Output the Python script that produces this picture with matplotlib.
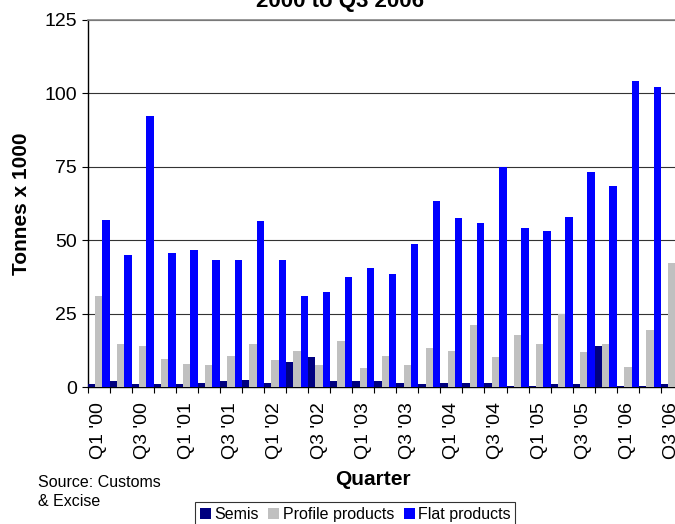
# ===================================================================================
# plot.py: Quarterly steel imports (Semis, Profile and Flat products),
# Q1 2000 to Q3 2006, drawn as a grouped bar chart and saved to out.png.
# ===================================================================================

import numpy as np
import matplotlib
matplotlib.use("Agg")
import matplotlib.pyplot as plt
from matplotlib.patches import Patch

# ===============================================================
# Data (tonnes x 1000) ...
# ===============================================================

quarters = ["Q1 '00", "Q2 '00", "Q3 '00", "Q4 '00",
            "Q1 '01", "Q2 '01", "Q3 '01", "Q4 '01",
            "Q1 '02", "Q2 '02", "Q3 '02", "Q4 '02",
            "Q1 '03", "Q2 '03", "Q3 '03", "Q4 '03",
            "Q1 '04", "Q2 '04", "Q3 '04", "Q4 '04",
            "Q1 '05", "Q2 '05", "Q3 '05", "Q4 '05",
            "Q1 '06", "Q2 '06", "Q3 '06"]

semis   = [1.1, 2.2, 1.1, 1.1, 1.1, 1.5, 2.2, 2.5, 1.5, 8.6, 10.3, 2.2, 2.2, 2.2,
           1.5, 1.1, 1.5, 1.5, 1.5, 0.5, 0.5, 1.1, 1.1, 14.1, 0.5, 0.5, 1.1]

profile = [31.1, 14.8, 14.1, 9.7, 7.9, 7.6, 10.7, 14.8, 9.3, 12.4, 7.6, 15.8, 6.6, 10.7,
           7.6, 13.4, 12.4, 21.2, 10.3, 17.8, 14.8, 25.0, 12.0, 14.8, 6.9, 19.5, 42.3]

flat    = [57.0, 45.1, 92.4, 45.8, 46.8, 43.4, 43.4, 56.7, 43.4, 31.1, 32.5, 37.6, 40.6, 38.6,
           48.8, 63.5, 57.7, 56.0, 75.0, 54.3, 53.2, 58.0, 73.3, 68.6, 104.3, 102.3, 95.0]

series_names  = ["Semis", "Profile products", "Flat products"]
series_colors = ["#000080", "#C0C0C0", "#0000FF"]

# ===============================================================
# Main function ...
# ===============================================================

def main():
    print("--- Enter plot.main() ... ")

    plt.rcParams['font.family'] = ['Liberation Sans', 'DejaVu Sans']

    W, H = 675, 524
    fig = plt.figure(figsize=(W / 100, H / 100), dpi=100)

    # Axes placed in pixels (plot runs slightly past the right edge) ...

    left, right, top, bottom = 87.5, 683.0, 20.0, 387.0
    ax = fig.add_axes([left / W, 1 - bottom / H, (right - left) / W, (bottom - top) / H])

    x  = np.arange(len(quarters))
    bw = 1.0 / 3.0

    for k, (vals, name, col) in enumerate(zip([semis, profile, flat], series_names, series_colors)):
        ax.bar(x + (k - 1) * bw, vals, width=bw, color=col, label=name, zorder=3)

    ax.set_xlim(-0.5, len(quarters) - 0.5)
    ax.set_ylim(0, 125)

    # Y axis ...

    ax.set_yticks([0, 25, 50, 75, 100, 125])
    ax.tick_params(axis='y', direction='out', length=4.5, width=0.8, labelsize=14, pad=3)
    ax.yaxis.grid(True, color='#333333', linewidth=0.8, zorder=0)

    # X axis: labels every second quarter, tick marks at category boundaries ...

    ax.set_xticks(x[::2])
    ax.set_xticklabels(quarters[::2], rotation=90, fontsize=14)
    ax.set_xticks(np.arange(len(quarters) + 1) - 0.5, minor=True)
    ax.tick_params(axis='x', which='major', length=0, pad=11)
    ax.tick_params(axis='x', which='minor', direction='out', length=4.5, width=0.8)

    # Spines ...

    for s in ['left', 'bottom']:
        ax.spines[s].set_color('black')
        ax.spines[s].set_linewidth(1.0)
    ax.spines['top'].set_color('#888888')
    ax.spines['top'].set_linewidth(1.2)
    ax.spines['right'].set_color('#888888')

    # Labels and text ...

    ax.set_ylabel("Tonnes x 1000", fontsize=15, fontweight='bold')
    ax.yaxis.set_label_coords((31 - left) / (right - left), 0.5)

    ax.set_xlabel("Quarter", fontsize=15, fontweight='bold')
    ax.xaxis.set_label_coords((373 - left) / (right - left), (bottom - 470) / (bottom - top))

    fig.text(340 / W, 1 - 7 / H, "2000 to Q3 2006", ha='center', va='baseline',
             fontsize=16, fontweight='bold')

    fig.text(38 / W, 1 - 492 / H, "Source: Customs\n& Excise", ha='left', va='center',
             fontsize=11.5, linespacing=1.3)

    # Legend ...

    handles = [Patch(facecolor=c, edgecolor='none') for c in series_colors]
    leg = fig.legend(handles, series_names, loc='upper left',
                     bbox_to_anchor=(195 / W, 1 - 502 / H), ncol=3, fontsize=11.5,
                     frameon=True, fancybox=False, edgecolor='black',
                     handlelength=0.7, handleheight=0.7, handletextpad=0.2,
                     columnspacing=0.6, borderpad=0.3, borderaxespad=0)
    leg.get_frame().set_linewidth(0.8)

    fig.savefig("out.png", dpi=100)

    print("--- Leave plot.main() ... ")

# call the main method ...

if __name__ == "__main__":
    main()
